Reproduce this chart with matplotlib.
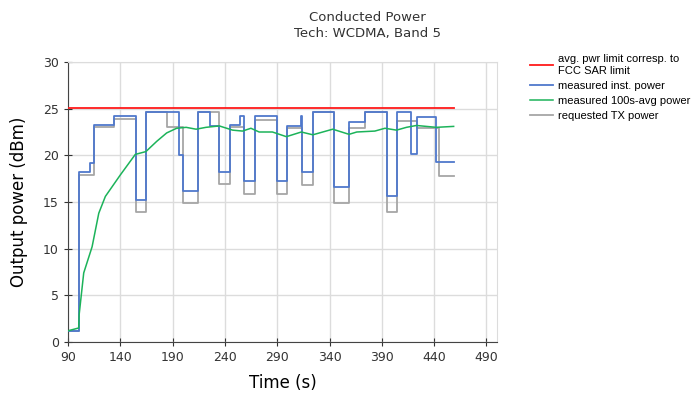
import matplotlib.pyplot as plt

# Limit line
limit_t = [90, 458.6]
limit_val = [25.1, 25.1]

# Measured instantaneous power (step levels, held until next time)
inst_t = [90, 100.2, 111.3, 114.4, 134.1, 154.8, 164.3, 196.0, 199.8, 214.5,
          225.5, 234.1, 244.6, 254.1, 257.9, 269.0, 289.5, 299.2, 312.5, 313.5,
          324.0, 344.6, 358.6, 373.8, 394.5, 404.0, 418.3, 424.0, 442.0, 458.6]
inst_val = [1.2, 18.25, 19.2, 23.25, 24.2, 15.2, 24.6, 20.0, 16.2, 24.6,
            23.15, 18.25, 23.25, 24.2, 17.2, 24.2, 17.2, 23.15, 24.2, 18.25,
            24.6, 16.6, 23.6, 24.6, 15.6, 24.6, 20.1, 24.1, 19.3, 19.3]

# Requested TX power
req_t = [90, 100.2, 114.4, 134.1, 154.8, 164.3, 184.3, 199.8, 214.5, 234.1,
         244.6, 257.9, 269.0, 289.5, 299.2, 313.5, 324.0, 344.6, 358.6, 373.8,
         394.5, 404.0, 424.0, 444.6, 458.6]
req_val = [1.2, 17.9, 23.0, 23.9, 13.9, 24.6, 23.0, 14.9, 24.6, 16.9,
           23.0, 15.9, 23.8, 15.9, 22.9, 16.8, 24.6, 14.9, 22.9, 24.6,
           13.9, 23.7, 22.9, 17.8, 17.8]

# Measured 100s average power
avg_t = [90, 100.2, 100.6, 105, 113, 119.4, 125.7, 140, 154.3, 164.4,
         174.8, 184.3, 193.8, 202.9, 212.4, 221.9, 234.6, 247.3, 256.8, 264.8,
         272.7, 285.4, 298.7, 313, 324, 343, 358.6, 366, 383.3, 392.9,
         404, 413.5, 423, 442, 458.6]
avg_val = [1.2, 1.5, 2.9, 7.4, 10.2, 13.8, 15.6, 17.9, 20.1, 20.4,
           21.5, 22.4, 22.9, 23.0, 22.8, 23.0, 23.15, 22.7, 22.6, 22.9,
           22.5, 22.5, 22.0, 22.5, 22.2, 22.8, 22.25, 22.5, 22.6, 22.9,
           22.7, 23.0, 23.2, 23.0, 23.1]

x_ticks = list(range(90, 491, 50))
y_ticks = list(range(0, 31, 5))

fig = plt.figure(figsize=(6.97, 3.99), dpi=100)
ax = fig.add_axes([0.0976, 0.1429, 0.6154, 0.7017])

ax.plot(req_t, req_val, color='#a6a6a6', lw=1.3, drawstyle='steps-post',
        label='requested TX power', zorder=2)
ax.plot(inst_t, inst_val, color='#4f78cc', lw=1.3, drawstyle='steps-post',
        label='measured inst. power', zorder=3)
ax.plot(avg_t, avg_val, color='#1cb35a', lw=1.1,
        label='measured 100s-avg power', zorder=4)
ax.plot(limit_t, limit_val, color='#ff1a1a', lw=1.3,
        label='avg. pwr limit corresp. to\nFCC SAR limit', zorder=5)

ax.set_xlim(90, 500)
ax.set_ylim(0, 30)
ax.set_xticks(x_ticks)
ax.set_yticks(y_ticks)
ax.tick_params(direction='inout', length=6, labelsize=9, colors='#333333')
ax.grid(color='#dcdcdc', lw=1)
ax.set_axisbelow(True)
for side in ('top', 'right'):
    ax.spines[side].set_color('#dcdcdc')
for side in ('left', 'bottom'):
    ax.spines[side].set_color('#444444')

ax.set_xlabel('Time (s)', fontsize=12)
ax.set_ylabel('Output power (dBm)', fontsize=12)
ax.yaxis.set_label_coords(-0.094, 0.5)
ax.xaxis.set_label_coords(0.5, -0.115)

fig.text(0.527, 0.972, 'Conducted Power\nTech: WCDMA, Band 5', ha='center',
         va='top', fontsize=9.5, color='#333333', linespacing=1.25)

handles, labels = ax.get_legend_handles_labels()
order = [3, 1, 2, 0]
fig.legend([handles[i] for i in order], [labels[i] for i in order],
           loc='upper left', bbox_to_anchor=(0.753, 0.878), frameon=False,
           prop={'family': 'Liberation Sans', 'size': 8},
           handlelength=2.0, labelspacing=0.45, borderpad=0,
           handletextpad=0.45)

fig.savefig('out.png', dpi=100)
